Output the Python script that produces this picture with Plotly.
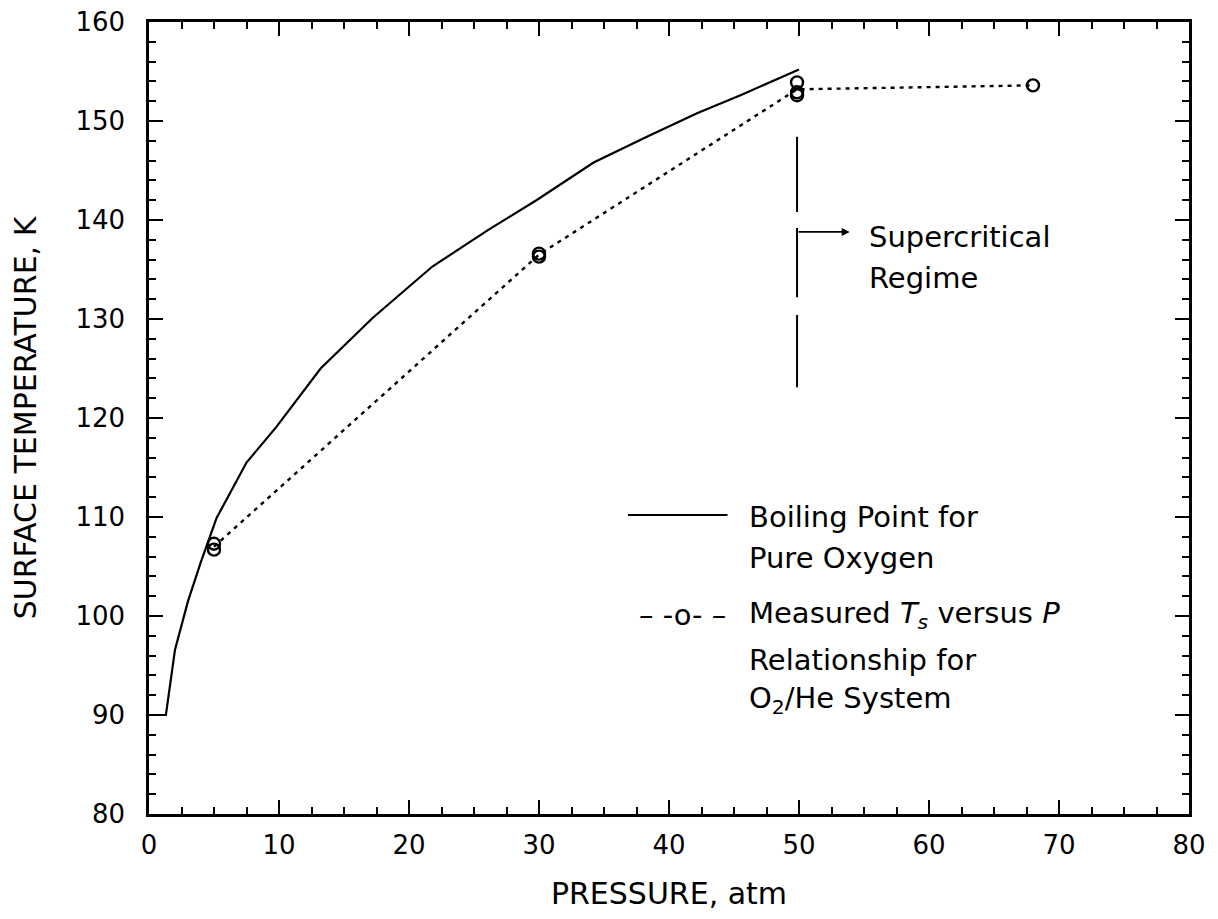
import plotly.graph_objects as go

# Boiling point curve for pure oxygen
bp_P = [0, 1.3, 2.0, 3.0, 4.0, 5.2, 7.5, 9.8, 13.2, 17.2, 21.8, 26.1, 29.8, 34.2, 38.3, 42.2, 45.5, 50.0]
bp_T = [90, 90, 96.6, 101.5, 105.5, 109.9, 115.5, 119.1, 125.0, 130.1, 135.3, 139.0, 142.0, 145.8, 148.4, 150.8, 152.6, 155.2]

# Measured Ts versus P (O2/He system)
meas_line_P = [5, 30, 49.85, 68]
meas_line_T = [107.0, 136.5, 153.2, 153.6]
meas_P = [5, 5, 30, 30, 49.85, 49.85, 49.85, 68]
meas_T = [107.3, 106.7, 136.6, 136.3, 153.9, 152.9, 152.6, 153.6]

# Critical pressure marker (long-dashed vertical line segments)
crit_P = 49.85
crit_segments = [(148.4, 140.8), (139.2, 132.2), (130.4, 123.1)]
arrow_T = 138.8
arrow_end_P = 53.9

x_ticks = [0, 10, 20, 30, 40, 50, 60, 70, 80]
y_ticks = [80, 90, 100, 110, 120, 130, 140, 150, 160]

FONT = "DejaVu Sans"

fig = go.Figure()
fig.add_trace(go.Scatter(x=bp_P, y=bp_T, mode="lines",
                         line=dict(color="black", width=2.2), showlegend=False))
fig.add_trace(go.Scatter(x=meas_line_P, y=meas_line_T, mode="lines",
                         line=dict(color="black", width=2.4, dash="4px,5px"), showlegend=False))
fig.add_trace(go.Scatter(x=meas_P, y=meas_T, mode="markers",
                         marker=dict(symbol="circle-open", size=12, color="black",
                                     line=dict(color="black", width=2.4)),
                         showlegend=False))

for t0, t1 in crit_segments:
    fig.add_shape(type="line", x0=crit_P, x1=crit_P, y0=t0, y1=t1, xref="x", yref="y",
                  line=dict(color="black", width=2))

fig.add_annotation(x=arrow_end_P, y=arrow_T, ax=crit_P, ay=arrow_T, axref="x", ayref="y",
                   xref="x", yref="y", text="", showarrow=True, arrowhead=2,
                   arrowsize=1, arrowwidth=1.6, arrowcolor="black")

txt_font = dict(family=FONT, size=29, color="black")


def label(x, y, text):
    fig.add_annotation(x=x, y=y, xref="x", yref="y", text=text, showarrow=False,
                       xanchor="left", yanchor="middle", font=txt_font)


label(55.2, 138.3, "Supercritical")
label(55.2, 134.1, "Regime")

# Legend block
fig.add_shape(type="line", x0=36.85, x1=44.5, y0=110.2, y1=110.2, xref="x", yref="y",
              line=dict(color="black", width=2))
label(46.0, 110.0, "Boiling Point for")
label(46.0, 105.9, "Pure Oxygen")
fig.add_annotation(x=41.0, y=100.1, xref="x", yref="y", text="– -o- –", showarrow=False,
                   xanchor="center", yanchor="middle", font=txt_font)
label(46.0, 100.1, "Measured <i>T<sub>s</sub></i> versus <i>P</i>")
label(46.0, 95.6, "Relationship for")
label(46.0, 91.5, "O<sub>2</sub>/He System")

axis_common = dict(showline=True, linecolor="black", linewidth=2.5, mirror="allticks",
                   ticks="inside", tickcolor="black", tickwidth=2, ticklen=14,
                   showgrid=False, zeroline=False, automargin=False,
                   ticklabeloverflow="allow",
                   tickfont=dict(family=FONT, size=26, color="black"))

fig.update_xaxes(range=[0, 80], tickvals=x_ticks, ticktext=[str(v) for v in x_ticks],
                 minor=dict(ticks="inside", dtick=2.5, ticklen=7, tickwidth=2, tickcolor="black"),
                 ticklabelstandoff=6,
                 title=dict(text="PRESSURE, atm", font=dict(family=FONT, size=30, color="black"),
                            standoff=26),
                 **axis_common)
fig.update_yaxes(range=[80, 160], tickvals=y_ticks, ticktext=[str(v) for v in y_ticks],
                 minor=dict(ticks="inside", dtick=2, ticklen=7, tickwidth=2, tickcolor="black"),
                 ticklabelstandoff=16,
                 title=dict(text="SURFACE TEMPERATURE, K", font=dict(family=FONT, size=30, color="black"),
                            standoff=30),
                 **axis_common)

fig.update_layout(width=1202, height=903, plot_bgcolor="white", paper_bgcolor="white",
                  margin=dict(l=141, r=21, t=14, b=97), showlegend=False)

fig.write_html("out.html")
